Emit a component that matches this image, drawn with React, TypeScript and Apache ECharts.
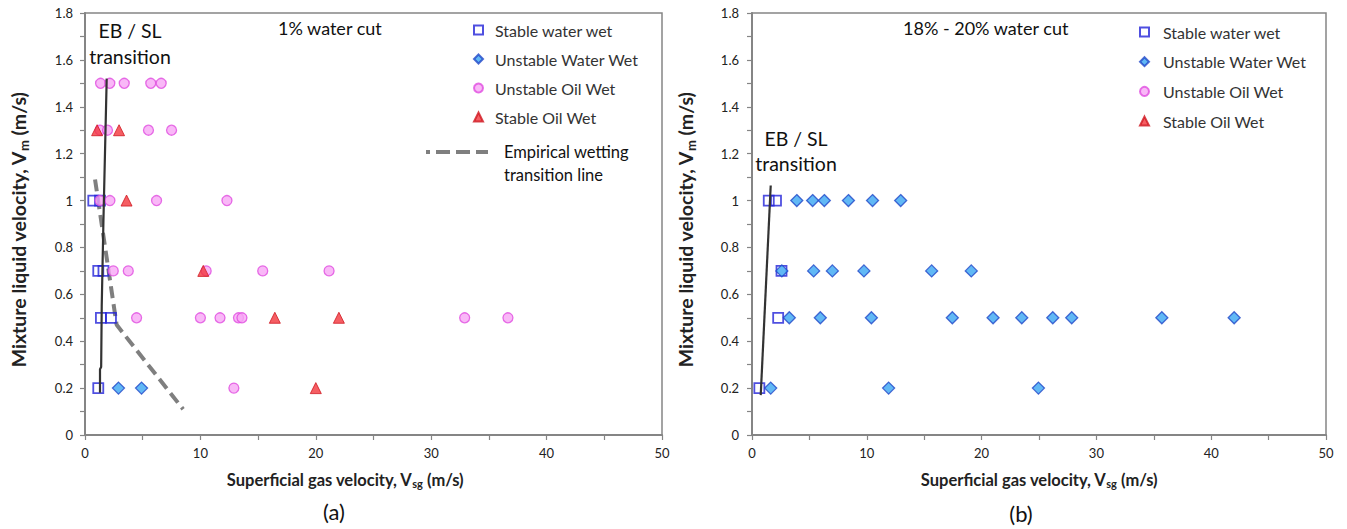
import React, { useEffect, useRef } from "react";
import * as echarts from "echarts";

// ---------- Data ----------
const legendNames = ["Stable water wet", "Unstable Water Wet", "Unstable Oil Wet", "Stable Oil Wet"];

// (a) 1% water cut
const leftStableWaterWet = [[0.72, 1.0], [1.3, 1.0], [1.15, 0.7], [1.6, 0.7], [1.38, 0.5], [2.25, 0.5], [1.15, 0.2]];
const leftUnstableWaterWet = [[2.9, 0.2], [4.9, 0.2]];
const leftUnstableOilWet = [
  [1.35, 1.5], [2.15, 1.5], [3.4, 1.5], [5.7, 1.5], [6.6, 1.5],
  [1.3, 1.3], [1.95, 1.3], [5.5, 1.3], [7.5, 1.3],
  [1.3, 1.0], [2.16, 1.0], [6.2, 1.0], [12.3, 1.0],
  [2.45, 0.7], [3.75, 0.7], [10.5, 0.7], [15.4, 0.7], [21.15, 0.7],
  [4.47, 0.5], [10.0, 0.5], [11.7, 0.5], [13.3, 0.5], [13.6, 0.5], [32.9, 0.5], [36.65, 0.5],
  [12.9, 0.2],
];
const leftStableOilWet = [[1.05, 1.3], [2.95, 1.3], [3.6, 1.0], [10.25, 0.7], [16.45, 0.5], [22.0, 0.5], [20.0, 0.2]];
const leftEbSlLine = [[1.88, 1.52], [1.6, 0.92], [1.45, 0.55], [1.4, 0.29], [1.3, 0.28], [1.3, 0.18]];
const leftEmpiricalLine = [[0.87, 1.09], [2.74, 0.47], [8.5, 0.11]];

// (b) 18% - 20% water cut
const rightStableWaterWet = [[1.46, 1.0], [2.09, 1.0], [2.57, 0.7], [2.28, 0.5], [0.64, 0.2]];
const rightUnstableWaterWet = [
  [3.9, 1.0], [5.28, 1.0], [6.3, 1.0], [8.4, 1.0], [10.5, 1.0], [12.95, 1.0],
  [2.6, 0.7], [5.37, 0.7], [7.0, 0.7], [9.75, 0.7], [15.65, 0.7], [19.1, 0.7],
  [3.25, 0.5], [5.95, 0.5], [10.4, 0.5], [17.45, 0.5], [21.0, 0.5], [23.5, 0.5], [26.2, 0.5], [27.85, 0.5], [35.7, 0.5], [42.0, 0.5],
  [1.63, 0.2], [11.9, 0.2], [24.95, 0.2],
];
const rightEbSlLine = [[1.63, 1.064], [0.76, 0.17]];

const FONT = "Lato";
const AXIS_GREY = "#858585";

export default function App() {
  const ref = useRef<HTMLDivElement>(null);

  useEffect(() => {
    if (!ref.current) return;
    const chart = echarts.init(ref.current, undefined, { renderer: "svg" });

    const styles: Record<string, any> = {
      "Stable water wet": { symbol: "rect", symbolSize: 10, itemStyle: { color: "rgba(255,255,255,0)", borderColor: "#2323d8", borderWidth: 1.8 } },
      "Unstable Water Wet": { symbol: "diamond", symbolSize: 12, itemStyle: { color: "#3aa6f2", borderColor: "#2047c8", borderWidth: 1.3 } },
      "Unstable Oil Wet": { symbol: "circle", symbolSize: 10, itemStyle: { color: "#f7a6f5", borderColor: "#e04ce0", borderWidth: 1.3 } },
      "Stable Oil Wet": { symbol: "triangle", symbolSize: 11, itemStyle: { color: "#f2363c", borderColor: "#d01820", borderWidth: 1 } },
    };

    const scatter = (name: string, data: number[][], idx: number) => ({
      type: "scatter",
      name,
      data,
      xAxisIndex: idx,
      yAxisIndex: idx,
      ...styles[name],
      z: 3,
    });

    const xAxisBase = (gridIndex: number, shift: number) => ({
      type: "value",
      gridIndex,
      min: 0,
      max: 50,
      interval: 10,
      axisLine: { show: true, lineStyle: { color: AXIS_GREY, width: 2 } },
      axisTick: { show: true, length: 5, lineStyle: { color: AXIS_GREY, width: 1.2 } },
      minorTick: { show: true, splitNumber: 2, length: 5, lineStyle: { color: AXIS_GREY, width: 1.2 } },
      splitLine: { show: false },
      axisLabel: { color: "#222", fontFamily: FONT, fontSize: 13, margin: 11 },
      name: "{b|Superficial gas velocity, V}{s|sg}{b| (m/s)}",
      nameLocation: "middle",
      nameGap: 35,
      nameTextStyle: {
        padding: [0, shift, 0, 0],
        rich: {
          b: { fontFamily: FONT, fontWeight: "bold", fontSize: 16.5, color: "#222" },
          s: { fontFamily: FONT, fontWeight: "bold", fontSize: 11, color: "#222", padding: [8, 0, 0, 0] },
        },
      },
    });

    const yAxisBase = (gridIndex: number, margin: number) => ({
      type: "value",
      gridIndex,
      min: 0,
      max: 1.8,
      interval: 0.2,
      axisLine: { show: true, lineStyle: { color: AXIS_GREY, width: 2 } },
      axisTick: { show: true, length: 5, lineStyle: { color: AXIS_GREY, width: 1.2 } },
      minorTick: { show: true, splitNumber: 2, length: 5, lineStyle: { color: AXIS_GREY, width: 1.2 } },
      splitLine: { show: false },
      axisLabel: { color: "#222", fontFamily: FONT, fontSize: 13, margin },
      name: "{b|Mixture liquid velocity, V}{s|m}{b| (m/s)}",
      nameLocation: "middle",
      nameGap: 55,
      nameRotate: 90,
      nameTextStyle: {
        padding: [0, 12, 0, 0],
        rich: {
          b: { fontFamily: FONT, fontWeight: "bold", fontSize: 19.5, color: "#222" },
          s: { fontFamily: FONT, fontWeight: "bold", fontSize: 13, color: "#222", padding: [10, 0, 0, 0] },
        },
      },
    });

    const legendBase = {
      orient: "vertical",
      itemHeight: 9,
      itemWidth: 9,
      data: legendNames,
      selectedMode: false,
    };

    const txt = (text: string, x: number, y: number, size: number, align = "center") => ({
      type: "text",
      x,
      y,
      style: { text, fontFamily: FONT, fontSize: size, fill: "#111", textAlign: align, textVerticalAlign: "middle" },
    });

    chart.setOption({
      animation: false,
      backgroundColor: "#fff",
      grid: [
        { left: 85, right: 685, top: 13, bottom: 94, show: true, borderColor: AXIS_GREY, borderWidth: 1.5, backgroundColor: "transparent" },
        { left: 752, right: 21, top: 13, bottom: 94, show: true, borderColor: AXIS_GREY, borderWidth: 1.5, backgroundColor: "transparent" },
      ],
      xAxis: [xAxisBase(0, 57), xAxisBase(1, 0)],
      yAxis: [yAxisBase(0, 12), yAxisBase(1, 13)],
      legend: [
        {
          ...legendBase, left: 468, top: 16, itemGap: 11,
          textStyle: { fontFamily: FONT, fontSize: 16, color: "#333", lineHeight: 18, padding: [0, 0, 0, 7] },
        },
        {
          ...legendBase, left: 1134, top: 18, itemGap: 11.7,
          textStyle: { fontFamily: FONT, fontSize: 16, color: "#333", lineHeight: 18, padding: [0, 0, 0, 9] },
        },
      ],
      series: [
        scatter("Stable water wet", leftStableWaterWet, 0),
        scatter("Unstable Water Wet", leftUnstableWaterWet, 0),
        scatter("Unstable Oil Wet", leftUnstableOilWet, 0),
        scatter("Stable Oil Wet", leftStableOilWet, 0),
        {
          type: "line", name: "Empirical wetting transition line", data: leftEmpiricalLine, xAxisIndex: 0, yAxisIndex: 0,
          symbol: "none", lineStyle: { color: "#7f7f7f", width: 4, type: [12, 6] }, z: 2,
        },
        {
          type: "line", name: "EB / SL transition (a)", data: leftEbSlLine, xAxisIndex: 0, yAxisIndex: 0,
          symbol: "none", lineStyle: { color: "#333", width: 2.2 }, z: 4,
        },
        scatter("Stable water wet", rightStableWaterWet, 1),
        scatter("Unstable Water Wet", rightUnstableWaterWet, 1),
        {
          type: "line", name: "EB / SL transition (b)", data: rightEbSlLine, xAxisIndex: 1, yAxisIndex: 1,
          symbol: "none", lineStyle: { color: "#333", width: 2.2 }, z: 4,
        },
      ],
      graphic: [
        txt("EB / SL", 130, 30, 19.5),
        txt("transition", 130, 56, 19.5),
        txt("1% water cut", 278, 28, 18, "left"),
        { type: "line", shape: { x1: 426, y1: 152, x2: 488, y2: 152 }, style: { stroke: "#7f7f7f", lineWidth: 4, lineDash: [14, 6], lineDashOffset: 10 } },
        txt("Empirical wetting", 504, 152, 16.5, "left"),
        txt("transition line", 504, 175, 16.5, "left"),
        txt("18% - 20% water cut", 903, 28, 18, "left"),
        txt("EB / SL", 796, 138, 19.5),
        txt("transition", 796, 163, 19.5),
        txt("(a)", 334, 511, 22),
        txt("(b)", 1021, 513, 22),
      ],
    });

    return () => chart.dispose();
  }, []);

  return <div ref={ref} style={{ position: "fixed", left: 0, top: 0, width: 1347, height: 529 }} />;
}
